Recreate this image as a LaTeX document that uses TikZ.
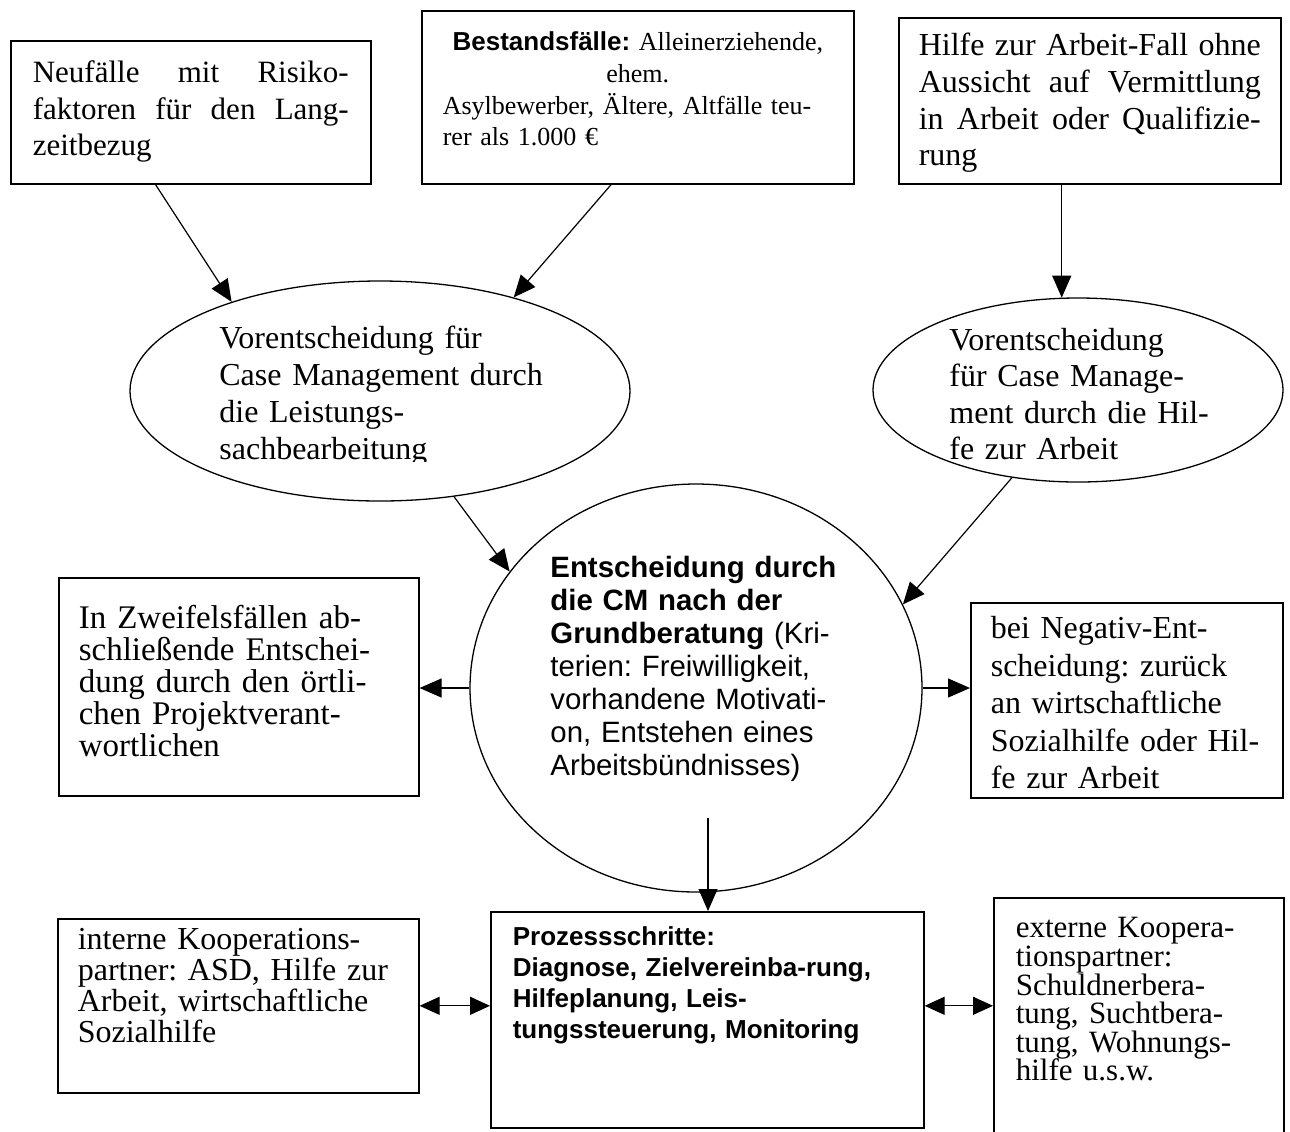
\documentclass[tikz,border=0pt]{standalone}
\usepackage{fontspec}
\setmainfont{Liberation Serif}
\setsansfont{Liberation Sans}
\usetikzlibrary{arrows.meta, shapes.geometric}
\tolerance=9999
\hbadness=10000
\frenchspacing

\begin{document}
\begin{tikzpicture}[x=0.5pt, y=-0.5pt,
  box/.style={draw, line width=0.8pt, rectangle, anchor=north west,
    inner xsep=10pt, inner ysep=0pt, align=left},
  oval/.style={draw, line width=0.65pt, ellipse, inner sep=0pt},
  txt/.style={inner sep=0pt, anchor=base west, align=left},
  arr/.style={-{Triangle[length=11pt, width=9.5pt]}, line width=0.6pt},
  darr/.style={{Triangle[length=10pt, width=9pt]}-{Triangle[length=10pt, width=9pt]},
    line width=0.6pt}]
  \useasboundingbox (0,0) rectangle (1290,1131);

  \node[box, inner xsep=11pt, text width=158pt, text height=21pt, text depth=50.5pt,
        align=justify, font=\fontsize{15.5}{18.25}\selectfont] (neu) at (10,40)
        {Neufälle mit Risiko-\linebreak faktoren für den Lang-\linebreak zeitbezug};
  \node[box, inner xsep=10.5pt, text width=195pt, text height=20pt, text depth=66.5pt,
        font=\fontsize{13}{15.8}\selectfont] (bestand) at (421,10)
        {{\centering\textsf{\bfseries Bestandsfälle:} Alleinerziehende,\\ ehem.\par}%
         Asylbewerber, Ältere, Altfälle teu-\\ rer als 1.000 €};
  \node[box, text width=171pt, text height=19pt, text depth=64pt,
        align=justify, font=\fontsize{16}{18.3}\selectfont] (hilfe) at (898,17)
        {Hilfe zur Arbeit\mbox{-}Fall ohne\linebreak Aussicht auf Vermittlung\linebreak
         in Arbeit oder Qualifizie-\linebreak rung};

  \node[oval, minimum width=250pt, minimum height=110pt] (lell) at (380,391) {};
  \begin{scope}
    \clip (130,290) rectangle (640,461);
    \node[txt, text width=165pt, font=\fontsize{16}{18.5}\selectfont] (lelltxt) at (219,348)
          {Vorentscheidung für\\ Case Management durch\\ die Leistungs-\\ sachbearbeitung};
  \end{scope}
  \node[oval, minimum width=205pt, minimum height=92pt] (rell) at (1078,390) {};
  \node[txt, text width=160pt, font=\fontsize{16}{18.3}\selectfont] (relltxt) at (949,350)
        {Vorentscheidung\\ \makebox[136pt][s]{für Case Manage-}\\
         \makebox[158pt][s]{ment durch die Hil-}\\ fe zur Arbeit};

  \node[oval, minimum width=226pt, minimum height=204pt] (circ) at (696,688) {};
  \node[txt, text width=150pt, font=\sffamily\fontsize{14.7}{16.5}\selectfont]
        (circtxt) at (550,577)
        {{\bfseries Entscheidung durch\\ die CM nach der\\ Grundberatung} (Kri-\\
         terien: Freiwilligkeit,\\ vorhandene Motivati-\\ on, Entstehen eines\\
         Arbeitsbündnisses)};

  \node[box, text width=160pt, text height=25.5pt, text depth=83.5pt,
        font=\fontsize{16.5}{16}\selectfont] (zweifel) at (58,577)
        {In Zweifelsfällen ab-\\ schließende Entschei-\\ dung durch den örtli-\\
         chen Projektverant-\\ wortlichen};
  \node[box, text width=136pt, text height=18pt, text depth=79.5pt,
        font=\fontsize{16}{18.75}\selectfont] (negativ) at (970,602)
        {bei Negativ-Ent-\\ scheidung: zurück\\ an wirtschaftliche\\
         Sozialhilfe oder Hil-\\ fe zur Arbeit};

  \node[box, text width=160.5pt, text height=15.5pt, text depth=71.5pt,
        font=\fontsize{16}{15.5}\selectfont] (interne) at (57,918)
        {interne Kooperations-\\ partner: ASD, Hilfe zur\\ Arbeit, wirtschaftliche\\ Sozialhilfe};
  \node[box, inner xsep=11pt, text width=194.5pt, text height=17pt, text depth=91pt,
        font=\sffamily\bfseries\fontsize{13}{15.5}\selectfont] (prozess) at (490,911)
        {Prozessschritte:\\ Diagnose, Zielvereinba-rung,\\ Hilfeplanung, Leis-\\
         tungssteuerung, Monitoring};
  \node[box, inner xsep=11pt, text width=123pt, text height=20pt, text depth=104pt,
        font=\fontsize{15.5}{14.3}\selectfont] (externe) at (993,897)
        {externe Koopera-\\ tionspartner:\\ Schuldnerbera-\\ tung, Suchtbera-\\
         tung, Wohnungs-\\ hilfe u.s.w.};

  \draw[arr] (neu.-116) -- (lell.149);
  \draw[arr] (bestand.-107) -- (lell.35);
  \draw[arr] (rell.100 |- hilfe.south) -- (rell.100);
  \draw[arr] (lell.-55) -- (circ.148);
  \draw[arr] (rell.-127) -- (circ.22);
  \draw[arr] (circ.west) -- (circ.west -| zweifel.east);
  \draw[arr] (circ.east) -- (circ.east -| negativ.west);
  \coordinate (cmout) at (708,818);
  \draw[arr] (cmout) -- (cmout |- prozess.north);
  \draw[darr] (interne.east) -- (interne.east -| prozess.west);
  \draw[darr] (prozess.east |- interne.east) -- (interne.east -| externe.west);
\end{tikzpicture}
\end{document}
